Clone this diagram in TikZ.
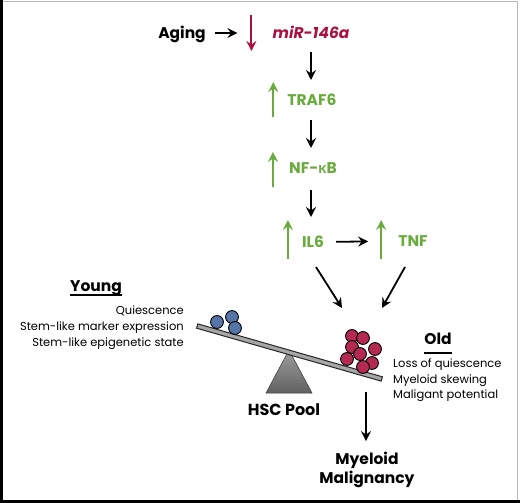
\documentclass[tikz,border=0pt]{standalone}
\usepackage{fontspec}
\setmainfont{Poppins}
\newfontfamily\greekfont{Lato}
\usetikzlibrary{arrows.meta, calc}

\definecolor{agered}{HTML}{A8103F}
\definecolor{upgreen}{HTML}{6AAB3E}
\definecolor{youngblue}{HTML}{5574A8}
\definecolor{oldred}{HTML}{B42A52}

\begin{document}
\begin{tikzpicture}[
  x=1pt, y=-1pt,
  tag/.style={inner sep=0pt, text height=11pt, text depth=0pt, font=\fontsize{15.5}{18}\selectfont\bfseries},
  factor/.style={tag, text=upgreen},
  listtext/.style={inner sep=0pt, font=\fontsize{11.5}{16}\selectfont},
  arrow/.style={-{Stealth[length=10pt, width=10pt, inset=3.5pt]}, line width=1.8pt},
  uparrow/.style={arrow, draw=upgreen, fill=upgreen, line width=2.4pt},
  downarrow/.style={arrow, draw=agered, fill=agered, line width=1.9pt},
  cell/.style={draw=black, line width=0.9pt},
]
  \useasboundingbox (0,0) rectangle (520,503);

  % Frame
  \draw[gray!55, line width=1pt] (2,1.5) -- (517,1.5) -- (517,500);
  \fill[black] (0,0) rectangle (2.5,503);
  \fill[black] (0,499.5) rectangle (520,503);

  % Pathway
  \node (aging) [tag] at (182,33) {Aging};
  \node (mir) [tag, text=agered] at (311,33) {\itshape miR-146a};
  \node (traf) [factor] at (312,100) {TRAF6};
  \node (nfkb) [factor] at (313,168) {NF-{\greekfont κ}B};
  \node (il6) [factor] at (313,242) {IL6};
  \node (tnf) [factor] at (413,241) {TNF};

  % Up / down markers
  \draw[downarrow] ([xshift=-21pt]mir.west) ++(0,-18) -- ++(0,36);
  \draw[uparrow] ([xshift=-14pt]traf.west) ++(0,17) -- ++(0,-35);
  \draw[uparrow] ([xshift=-16pt]nfkb.west) ++(0,19) -- ++(0,-35);
  \draw[uparrow] ([xshift=-14pt]il6.west) ++(0,17) -- ++(0,-39);
  \draw[uparrow] ([xshift=-17pt]tnf.west) ++(0,18) -- ++(0,-39);

  % Connections
  \draw[arrow, shorten <=9pt, shorten >=35pt] (aging.east) -- (mir.west);
  \draw[arrow, shorten <=19pt, shorten >=20pt] (mir.center) -- (mir.center |- traf.center);
  \draw[arrow, shorten <=20pt, shorten >=20pt] (mir.center |- traf.center) -- (mir.center |- nfkb.center);
  \draw[arrow, shorten <=22pt, shorten >=25pt] (mir.center |- nfkb.center) -- (mir.center |- il6.center);
  \draw[arrow, shorten <=12pt, shorten >=30pt] (il6.east) -- (tnf.west);

  % Balance
  \coordinate (leftin) at (342,308);
  \coordinate (rightin) at (382,308);
  \draw[arrow] ([shift={(3,25)}]il6.center) -- (leftin);
  \draw[arrow] ([shift={(-8,26)}]tnf.center) -- (rightin);

  \shade[top color=black!38, bottom color=black!62, draw=black!80, line width=0.5pt]
    (289,350) -- (312,393) -- (266,393) -- cycle;
  \node (plank) [draw=black!85, fill=black!35, line width=1pt, inner sep=0pt,
    minimum width=192pt, minimum height=4.5pt, rotate=-16] at (289.5,352.5) {};

  \foreach \cx/\cy in {217/322, 232/317, 235/328}
    \draw[cell, fill=youngblue] (\cx,\cy) circle (6.4);
  \foreach \cx/\cy in {352/336, 363/338, 352/347, 375/349, 360/354, 347/359, 372/363, 363/367}
    \draw[cell, fill=oldred] (\cx,\cy) circle (6.4);

  \node (pool) [tag, font=\fontsize{16}{18}\selectfont\bfseries] at (284,410) {HSC Pool};
  \node (malig) [tag, text height=, align=center, font=\fontsize{15.5}{19}\selectfont\bfseries] at (367,468) {Myeloid\\Malignancy};
  \coordinate (poolout) at (366,392);
  \draw[arrow, shorten >=11pt] (poolout) -- (poolout |- malig.north);

  % Young / Old
  \node (young) [tag] at (96,286) {Young};
  \draw[line width=2pt] ([yshift=-3pt]young.south west) -- ([yshift=-3pt]young.south east);
  \node (younglist) [listtext, anchor=north east, align=right] at (184,306)
    {Quiescence\\Stem-like marker expression\\Stem-like epigenetic state};

  \node (old) [tag] at (438,339) {Old};
  \draw[line width=2pt] ([yshift=-8pt]old.south west) -- ([yshift=-8pt]old.south east);
  \node (oldlist) [listtext, anchor=north west, align=left, font=\fontsize{11.5}{15.5}\selectfont] at (393,359)
    {Loss of quiescence\\Myeloid skewing\\Maligant potential};

\end{tikzpicture}
\end{document}
